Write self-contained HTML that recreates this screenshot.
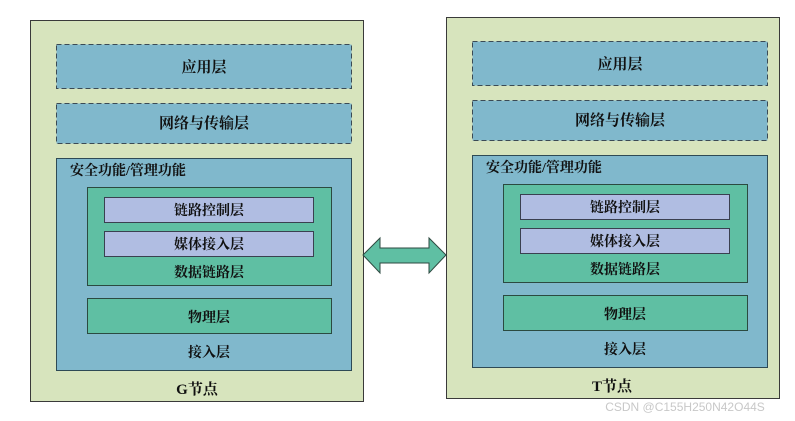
<!DOCTYPE html>
<html><head><meta charset="utf-8"><style>
html,body{margin:0;padding:0;background:#fff;width:795px;height:421px;overflow:hidden}
text{font-family:"Liberation Serif","Noto Serif CJK SC",serif;font-weight:bold;fill:#111}
</style></head><body>
<svg width="795" height="421" viewBox="0 0 795 421" xmlns="http://www.w3.org/2000/svg">
<defs>
<g id="node">
  <rect x="30.5" y="20.5" width="333" height="381" fill="#d7e4bd" stroke="#3a3a3a" stroke-width="1"/>
  <rect x="56.5" y="44.5" width="295" height="44" fill="#80b8cc" stroke="#3a4a55" stroke-width="1" stroke-dasharray="5,3"/>
  <rect x="56.5" y="103.5" width="295" height="40" fill="#80b8cc" stroke="#3a4a55" stroke-width="1" stroke-dasharray="5,3"/>
  <rect x="56.5" y="158.5" width="295" height="212" fill="#80b8cc" stroke="#2e4a55" stroke-width="1"/>
  <rect x="87.5" y="187.5" width="244" height="98" fill="#5fbfa3" stroke="#2b4a40" stroke-width="1"/>
  <rect x="104.5" y="197.5" width="209" height="25" fill="#b0bde2" stroke="#3a4050" stroke-width="1"/>
  <rect x="104.5" y="231.5" width="209" height="25" fill="#b0bde2" stroke="#3a4050" stroke-width="1"/>
  <rect x="87.5" y="298.5" width="244" height="35" fill="#5fbfa3" stroke="#2b4a40" stroke-width="1"/>
  <g font-size="15" text-anchor="middle">
    <text x="204" y="72">应用层</text>
    <text x="204" y="128">网络与传输层</text>
    <text x="209" y="215" font-size="14">链路控制层</text>
    <text x="209" y="249" font-size="14">媒体接入层</text>
    <text x="209" y="277" font-size="14">数据链路层</text>
    <text x="209" y="322" font-size="14">物理层</text>
    <text x="209" y="357" font-size="14">接入层</text>
  </g>
  <text x="70" y="175" font-size="14">安全功能/管理功能</text>
</g>
</defs>
<use href="#node"/>
<text x="197" y="394" font-size="15" text-anchor="middle">G节点</text>
<use href="#node" transform="translate(416,-3)"/>
<text x="612" y="391" font-size="15" text-anchor="middle">T节点</text>
<polygon points="363,255 380,238 380,248 429,248 429,238 446,255 429,273 429,263 380,263 380,273" fill="#5fbfa3" stroke="#2e4a40" stroke-width="1"/>
<text x="685" y="411" font-size="12" font-weight="normal" style="font-family:'Liberation Sans',sans-serif;font-weight:normal;fill:#c8c8c8" text-anchor="middle">CSDN @C155H250N42O44S</text>
</svg>
</body></html>
